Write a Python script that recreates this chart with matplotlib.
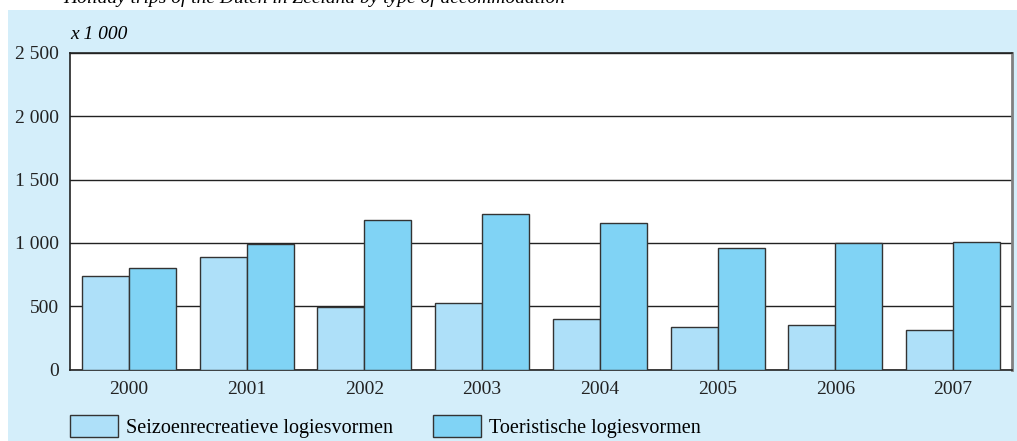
import numpy as np
import matplotlib.pyplot as plt
from matplotlib.patches import Rectangle, Patch

plt.rcParams['font.family'] = ['Liberation Serif', 'DejaVu Serif']

# dados (x 1 000)
jaren = ['2000', '2001', '2002', '2003', '2004', '2005', '2006', '2007']
seizoen = [740, 891, 497, 529, 400, 339, 350, 311]
toeristisch = [801, 992, 1180, 1232, 1160, 960, 1000, 1010]
yticks = [0, 500, 1000, 1500, 2000, 2500]
ylabels = ['0', '500', '1 000', '1 500', '2 000', '2 500']

licht = '#aee0f9'
donker = '#80d3f5'
achtergrond = '#d4eefa'

W, H = 1017, 441
fig = plt.figure(figsize=(W / 100, H / 100), dpi=100)
fig.patch.set_facecolor('white')
fig.patches.append(Rectangle((8 / W, 0), 1, (H - 10) / H, transform=fig.transFigure,
                             facecolor=achtergrond, edgecolor='none', zorder=-10))

# titel, afgesneden aan de bovenkant zoals in het origineel
fig.text(63 / W, (H - 3) / H, 'Holiday trips of the Dutch in Zeeland by type of accommodation',
         fontsize=14, style='italic', va='baseline', ha='left')

ax = fig.add_axes([70 / W, 71.5 / H, 942 / W, 316.5 / H])
x = np.arange(len(jaren))
b = 0.4
ax.bar(x - b / 2, seizoen, b, color=licht, edgecolor='#333333', linewidth=1, zorder=3)
ax.bar(x + b / 2, toeristisch, b, color=donker, edgecolor='#333333', linewidth=1, zorder=3)

ax.set_xlim(-0.5, len(jaren) - 0.5)
ax.set_ylim(0, 2500)
ax.set_yticks(yticks)
ax.set_yticklabels(ylabels)
ax.set_xticks(x)
ax.set_xticklabels(jaren)
ax.tick_params(axis='both', length=0, labelsize=14, colors='#222222')
ax.tick_params(axis='y', pad=8)
ax.tick_params(axis='x', pad=8)
ax.yaxis.grid(True, color='#222222', linewidth=1, zorder=1)
ax.set_axisbelow(True)
for s in ['left', 'top', 'bottom']:
    ax.spines[s].set_color('#222222')
    ax.spines[s].set_linewidth(1.2)
ax.spines['right'].set_color('#808080')
ax.spines['right'].set_linewidth(2)

fig.text(70 / W, (H - 39) / H, 'x 1 000', fontsize=14, style='italic', va='baseline', ha='left')

handles = [Patch(facecolor=licht, edgecolor='#333333', linewidth=1, label='Seizoenrecreatieve logiesvormen'),
           Patch(facecolor=donker, edgecolor='#333333', linewidth=1, label='Toeristische logiesvormen')]
fig.legend(handles=handles, loc='lower left', bbox_to_anchor=(70 / W, 3 / H), ncol=2,
           frameon=False, fontsize=14.5, borderpad=0, borderaxespad=0,
           handlelength=2.4, handleheight=1.3, handletextpad=0.4, columnspacing=1.95)

fig.savefig('out.png', dpi=100, facecolor=fig.get_facecolor())
